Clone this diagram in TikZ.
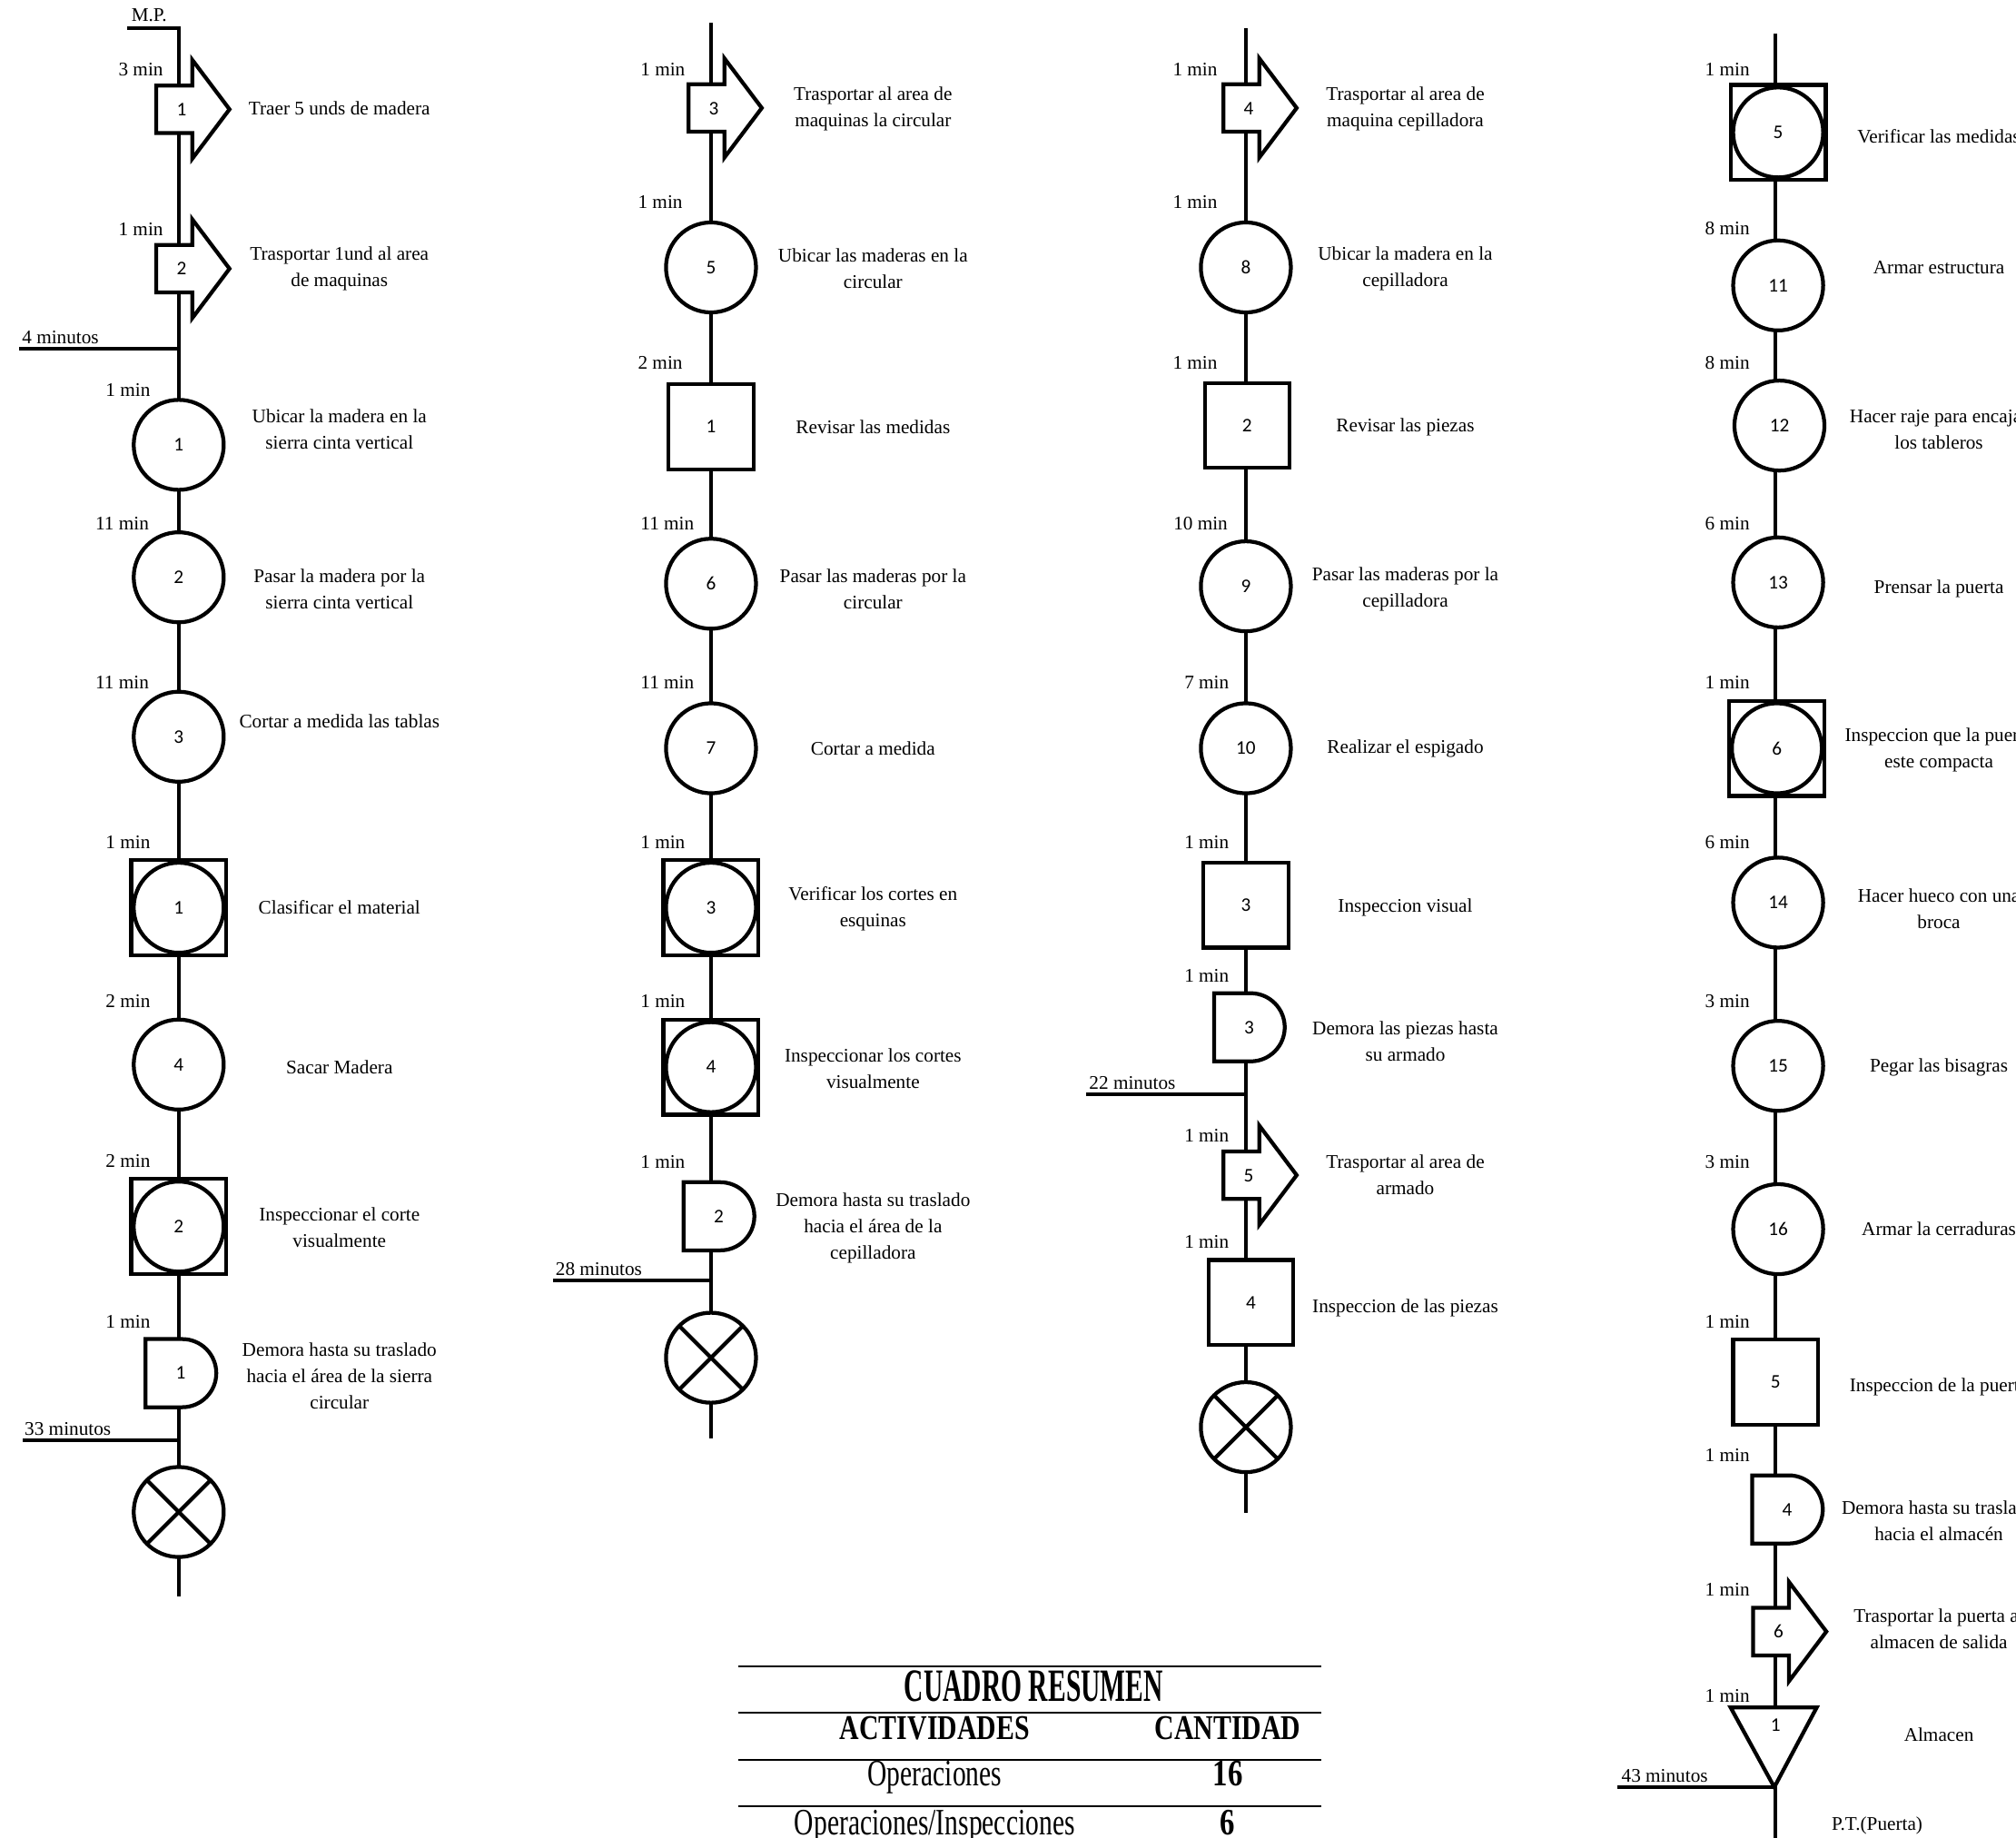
\documentclass[tikz,border=0pt]{standalone}
\usepackage{fontspec}
\usepackage{graphicx}
\setmainfont{Liberation Serif}
\newfontfamily\numfont{Carlito}
\usepackage{tikz}
\usetikzlibrary{shapes.arrows,shapes.misc,shapes.geometric}

\newcommand{\arrnum}[1]{\makebox[0pt][r]{#1\kern-2pt}}

\tikzset{
  flow/.style={line width=3pt},
  rule/.style={line width=1.5pt},
  numtext/.style={font=\numfont\fontsize{15}{15}\selectfont},
  oper/.style={circle,draw,line width=3pt,fill=white,minimum size=70pt,inner sep=0pt,numtext},
  insp/.style={rectangle,draw,line width=3pt,fill=white,minimum size=66pt,inner sep=0pt,numtext},
  opinsp/.style={insp,minimum size=74pt,path picture={\draw[line width=3pt] (path picture bounding box.center) circle[radius=35pt];}},
  transp/.style={single arrow,draw,line width=3pt,fill=white,anchor=tail,minimum height=57pt,minimum width=74pt,single arrow head extend=20pt,single arrow tip angle=106,inner xsep=0pt,inner ysep=12pt,text height=10pt,text depth=0pt,numtext},
  delay/.style={rounded rectangle,rounded rectangle left arc=none,draw,line width=3pt,fill=white,minimum width=55pt,minimum height=53pt,inner sep=0pt,numtext},
  endx/.style={circle,draw,line width=3pt,fill=white,minimum size=70pt,path picture={\draw[line width=3pt] (path picture bounding box.south west) -- (path picture bounding box.north east) (path picture bounding box.north west) -- (path picture bounding box.south east);}},
  desc/.style={align=center,inner sep=0pt,font=\fontsize{15}{20.5}\selectfont},
  tlab/.style={anchor=east,inner sep=0pt,font=\fontsize{15}{18}\selectfont},
  totlab/.style={anchor=base west,inner sep=0pt,font=\fontsize{15}{18}\selectfont},
  tabtext/.style={anchor=base,inner sep=0pt},
}

\begin{document}
\begin{tikzpicture}[x=1pt,y=-1pt]
  \useasboundingbox (0,0) rectangle (1568,1429);
  \clip (0,0) rectangle (1568,1429);

  % lineas de flujo
  \coordinate (mpl) at (99,22);
  \coordinate (c1a) at (139,22);
  \coordinate (c1b) at (139,1242);
  \coordinate (c2a) at (553,18);
  \coordinate (c2b) at (553,1119);
  \coordinate (c3a) at (969,22);
  \coordinate (c3b) at (969,1177);
  \coordinate (c4a) at (1381,26);
  \coordinate (c4b) at (1381,1440);
  \draw[flow] (mpl) -- (c1a) -- (c1b);
  \draw[flow] (c2a) -- (c2b);
  \draw[flow] (c3a) -- (c3b);
  \draw[flow] (c4a) -- (c4b);

  % tiempos acumulados
  \coordinate (j1) at (139,271);   \coordinate (j1s) at (15,271);
  \coordinate (j2) at (139,1120);  \coordinate (j2s) at (18,1120);
  \coordinate (j3) at (553,996);   \coordinate (j3s) at (430,996);
  \coordinate (j4) at (969,851);   \coordinate (j4s) at (845,851);
  \coordinate (j5) at (1381,1390); \coordinate (j5s) at (1258,1390);
  \draw[flow] (j1s) -- (j1);
  \draw[flow] (j2s) -- (j2);
  \draw[flow] (j3s) -- (j3);
  \draw[flow] (j4s) -- (j4);
  \draw[flow] (j5s) -- (j5);
  \node[totlab] (tot1) at (17,267) {4 minutos};
  \node[totlab] (tot2) at (19,1116) {33 minutos};
  \node[totlab] (tot3) at (432,992) {28 minutos};
  \node[totlab] (tot4) at (847,847) {22 minutos};
  \node[totlab] (tot5) at (1261,1386) {43 minutos};

  \node[inner sep=0pt,font=\fontsize{15}{18}\selectfont] (mp) at (116,12) {M.P.};

  % columna 1
  \node[transp] (t1) at (120,85) {\arrnum{1}};
  \node[transp] (t2) at (120,209) {\arrnum{2}};
  \node[oper] (o1) at (139,346) {1};
  \node[oper] (o2) at (139,449) {2};
  \node[oper] (o3) at (139,573) {3};
  \node[opinsp] (oi1) at (139,706) {1};
  \node[oper] (o4) at (139,828) {4};
  \node[opinsp] (oi2) at (139,954) {2};
  \node[delay] (d1) at (140.5,1068) {1};
  \node[endx] (x1) at (139,1176) {};

  \node[desc] (t1d) at (264,84) {Traer 5 unds de madera};
  \node[desc] (t2d) at (264,209) {Trasportar 1und al area\\de maquinas};
  \node[desc] (o1d) at (264,334) {Ubicar la madera en la\\sierra cinta vertical};
  \node[desc] (o2d) at (264,458) {Pasar la madera por la\\sierra cinta vertical};
  \node[desc] (o3d) at (264,561) {Cortar a medida las tablas};
  \node[desc] (oi1d) at (264,706) {Clasificar el material};
  \node[desc] (o4d) at (264,830) {Sacar Madera};
  \node[desc] (oi2d) at (264,955) {Inspeccionar el corte\\visualmente};
  \node[desc] (d1d) at (264,1070) {Demora hasta su traslado\\hacia el área de la sierra\\circular};

  \foreach \x/\y/\t in {127/54/3,127/178/1,117/303/1,116/407/11,116/531/11,117/655/1,117/779/2,117/903/2,117/1028/1}
    \node[tlab] at (\x,\y) {\t\ min};

  % columna 2
  \node[transp] (t3) at (534,84) {\arrnum{3}};
  \node[oper] (o5) at (553,208) {5};
  \node[insp] (i1) at (553,332) {1};
  \node[oper] (o6) at (553,454) {6};
  \node[oper] (o7) at (553,582) {7};
  \node[opinsp] (oi3) at (553,706) {3};
  \node[opinsp] (oi4) at (553,830) {4};
  \node[delay] (d2) at (559,946) {2};
  \node[endx] (x2) at (553,1056) {};

  \node[desc] (t3d) at (679,85) {Trasportar al area de\\maquinas la circular};
  \node[desc] (o5d) at (679,209) {Ubicar las maderas en la\\circular};
  \node[desc] (i1d) at (679,332) {Revisar las medidas};
  \node[desc] (o6d) at (679,458) {Pasar las maderas por la\\circular};
  \node[desc] (o7d) at (679,582) {Cortar a medida};
  \node[desc] (oi3d) at (679,707) {Verificar los cortes en\\esquinas};
  \node[desc] (oi4d) at (679,831) {Inspeccionar los cortes\\visualmente};
  \node[desc] (d2d) at (679,955) {Demora hasta su traslado\\hacia el área de la\\cepilladora};

  \foreach \x/\y/\t in {533/54/1,531/157/1,531/282/2,540/407/11,540/531/11,533/655/1,533/779/1,533/904/1}
    \node[tlab] at (\x,\y) {\t\ min};

  % columna 3
  \node[transp] (t4) at (950,84) {\arrnum{4}};
  \node[oper] (o8) at (969,208) {8};
  \node[insp] (i2) at (970,331) {2};
  \node[oper] (o9) at (969,456) {9};
  \node[oper] (o10) at (969,582) {10};
  \node[insp] (i3) at (969,704) {3};
  \node[delay] (d3) at (971.5,799) {3};
  \node[transp] (t5) at (950,914) {\arrnum{5}};
  \node[insp] (i4) at (973,1013) {4};
  \node[endx] (x3) at (969,1110) {};

  \node[desc] (t4d) at (1093,85) {Trasportar al area de\\maquina cepilladora};
  \node[desc] (o8d) at (1093,209) {Ubicar la madera en la\\cepilladora};
  \node[desc] (i2d) at (1093,332) {Revisar las piezas};
  \node[desc] (o9d) at (1093,458) {Pasar las maderas por la\\cepilladora};
  \node[desc] (o10d) at (1093,582) {Realizar el espigado};
  \node[desc] (i3d) at (1093,706) {Inspeccion visual};
  \node[desc] (d3d) at (1093,810) {Demora las piezas hasta\\su armado};
  \node[desc] (t5d) at (1093,914) {Trasportar al area de\\armado};
  \node[desc] (i4d) at (1093,1017) {Inspeccion de las piezas};

  \foreach \x/\y/\t in {947/54/1,947/157/1,947/282/1,955/407/10,956/531/7,956/655/1,956/759/1,956/883/1,956/966/1}
    \node[tlab] at (\x,\y) {\t\ min};

  % columna 4
  \node[opinsp] (oi5) at (1383,103) {5};
  \node[oper] (o11) at (1383,222) {11};
  \node[oper] (o12) at (1384,331) {12};
  \node[oper] (o13) at (1383,453) {13};
  \node[opinsp] (oi6) at (1382,582) {6};
  \node[oper] (o14) at (1383,702) {14};
  \node[oper] (o15) at (1383,829) {15};
  \node[oper] (o16) at (1383,956) {16};
  \node[insp] (i5) at (1381,1075) {5};
  \node[delay] (d4) at (1390,1174) {4};
  \node[transp] (t6) at (1362,1269) {\arrnum{6}};
  \draw[flow,fill=white] (1346,1328) coordinate (al-l) -- (1413,1328) coordinate (al-r)
    -- (1380,1390) coordinate (al-tip) -- cycle;
  \node[numtext,inner sep=0pt] (al1) at (1381,1342) {1};

  \node[desc] (oi5d) at (1508,106) {Verificar las medidas};
  \node[desc] (o11d) at (1508,208) {Armar estructura};
  \node[desc] (o12d) at (1508,334) {Hacer raje para encajar\\los tableros};
  \node[desc] (o13d) at (1508,458) {Prensar la puerta};
  \node[desc] (oi6d) at (1508,583) {Inspeccion que la puerta\\este compacta};
  \node[desc] (o14d) at (1508,707) {Hacer hueco con una\\broca};
  \node[desc] (o15d) at (1508,830) {Pegar las bisagras};
  \node[desc] (o16d) at (1508,956) {Armar la cerraduras};
  \node[desc] (i5d) at (1508,1079) {Inspeccion de la puerta};
  \node[desc] (d4d) at (1508,1183) {Demora hasta su traslado\\hacia el almacén};
  \node[desc] (t6d) at (1508,1267) {Trasportar la puerta al\\almacen de salida};
  \node[desc] (ald) at (1508,1349) {Almacen};
  \node[desc] (pt) at (1460,1420) {P.T.(Puerta)};

  \foreach \y/\t in {54/1,178/8,282/8,407/6,531/1,655/6,779/3,904/3,1028/1,1132/1,1236/1,1319/1}
    \node[tlab] at (1361,\y) {\t\ min};

  % cuadro resumen
  \foreach \y [count=\i] in {1296,1332,1369,1405}
    \draw[rule] (574,\y) coordinate (ra\i) -- (1028,\y) coordinate (rb\i);
  \node[tabtext,font=\bfseries\fontsize{36}{36}\selectfont] (cr) at (804,1323) {\scalebox{0.58}[1]{CUADRO RESUMEN}};
  \node[tabtext,font=\bfseries\fontsize{27}{27}\selectfont] (act) at (727,1353) {\scalebox{0.78}[1]{ACTIVIDADES}};
  \node[tabtext,font=\bfseries\fontsize{27}{27}\selectfont] (cant) at (955,1353) {\scalebox{0.78}[1]{CANTIDAD}};
  \node[tabtext,font=\fontsize{29}{29}\selectfont] (op) at (727,1389) {\scalebox{0.72}[1]{Operaciones}};
  \node[tabtext,font=\bfseries\fontsize{29}{29}\selectfont] (opn) at (955,1389) {\scalebox{0.8}[1]{16}};
  \node[tabtext,font=\fontsize{29}{29}\selectfont] (opi) at (727,1427) {\scalebox{0.72}[1]{Operaciones/Inspecciones}};
  \node[tabtext,font=\bfseries\fontsize{29}{29}\selectfont] (opin) at (955,1427) {\scalebox{0.8}[1]{6}};
\end{tikzpicture}
\end{document}
